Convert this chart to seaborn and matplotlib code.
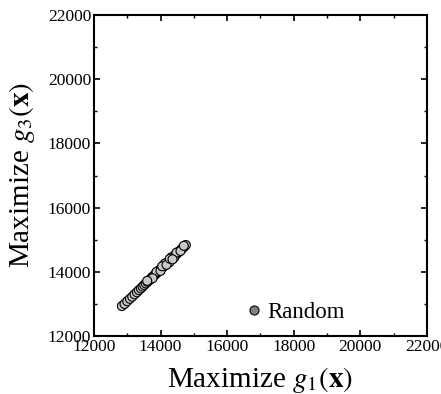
import numpy as np
import pandas as pd
import matplotlib
matplotlib.use("Agg")
import matplotlib.pyplot as plt
import seaborn as sns
from matplotlib.ticker import MultipleLocator

# Objective values of the random solutions
g1 = [12840, 12920, 13000, 13080, 13150, 13220, 13290, 13350, 13410, 13460,
      13510, 13560, 13610, 13650, 13690, 13730, 13770, 13810, 13840, 13870,
      13900, 13930, 13960, 13990, 14020, 14040, 14070, 14100, 14120, 14150,
      14170, 14200, 14220, 14250, 14270, 14300, 14320, 14350, 14370, 14400,
      14430, 14460, 14490, 14520, 14550, 14590, 14630, 14670, 14720, 14760,
      13880, 14000, 14130, 14260, 14330, 14410, 14480, 13760, 14050, 14180,
      14600, 14700, 13600, 14280, 14360]
g3 = [12935, 13000, 13085, 13160, 13225, 13300, 13365, 13430, 13485, 13540,
      13590, 13640, 13690, 13730, 13770, 13815, 13850, 13890, 13920, 13950,
      13985, 14010, 14045, 14070, 14100, 14125, 14150, 14180, 14205, 14230,
      14250, 14285, 14300, 14330, 14350, 14380, 14400, 14430, 14450, 14480,
      14510, 14540, 14565, 14600, 14625, 14665, 14705, 14745, 14790, 14835,
      14000, 14030, 14260, 14290, 14455, 14445, 14600, 13800, 14175, 14220,
      14650, 14810, 13720, 14410, 14390]
series = ["Random"] * len(g1)

df = pd.DataFrame({"g1": g1, "g3": g3, "series": series})

sns.set_theme(style="white")
plt.rcParams["font.family"] = ["Liberation Serif", "DejaVu Serif"]
plt.rcParams["mathtext.fontset"] = "stix"
plt.rcParams["text.color"] = "black"
plt.rcParams["axes.labelcolor"] = "black"

fig, ax = plt.subplots(figsize=(4.41, 3.94), dpi=100)
fig.subplots_adjust(left=0.213, right=0.968, top=0.962, bottom=0.147)

sns.scatterplot(data=df, x="g1", y="g3", hue="series", palette=["#c8c8c8"],
                s=42, edgecolor="black", linewidth=0.8, ax=ax, zorder=3)

ax.set_xlim(12000, 22000)
ax.set_ylim(12000, 22000)
ax.xaxis.set_major_locator(MultipleLocator(2000))
ax.yaxis.set_major_locator(MultipleLocator(2000))
ax.xaxis.set_minor_locator(MultipleLocator(1000))
ax.yaxis.set_minor_locator(MultipleLocator(1000))
ax.tick_params(which="both", direction="in", top=True, right=True,
               bottom=True, left=True, colors="black", labelsize=12.5, pad=2)
ax.tick_params(which="major", length=4, width=1.2)
ax.tick_params(which="minor", length=2.5, width=1.0)
for sp in ax.spines.values():
    sp.set_color("black")
    sp.set_linewidth(1.5)

ax.set_xlabel(r"Maximize $g_1(\mathbf{x})$", fontsize=21, labelpad=7)
ax.set_ylabel(r"Maximize $g_3(\mathbf{x})$", fontsize=21, labelpad=8)

leg = ax.legend(loc="lower left", frameon=False, fontsize=16.5,
                handletextpad=0.0, handlelength=1.15, borderaxespad=0.0,
                bbox_to_anchor=(0.415, 0.012))
for h in leg.legend_handles:
    h.set_markerfacecolor("#808080")
    h.set_markeredgecolor("black")
    h.set_markeredgewidth(0.8)

fig.savefig("out.png", dpi=100)
